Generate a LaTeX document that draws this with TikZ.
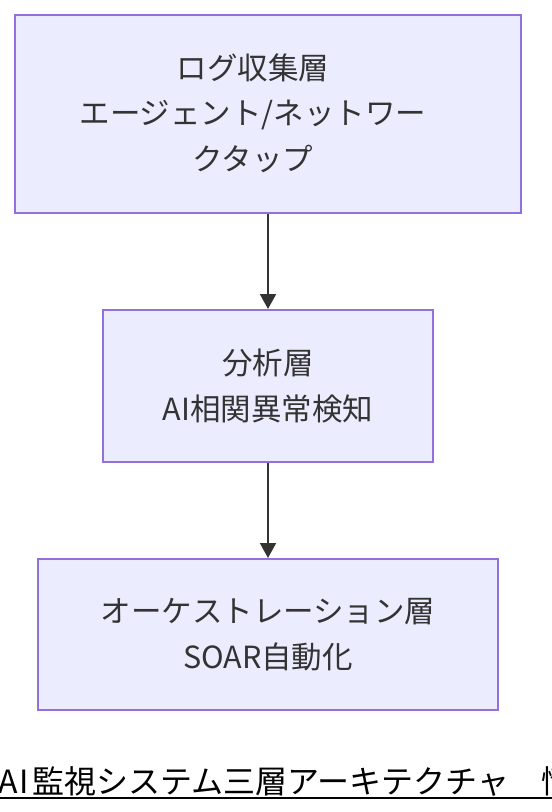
\documentclass[tikz,border=0pt]{standalone}
\usepackage{fontspec}
\setmainfont{Noto Sans CJK JP}
\newfontfamily\capfont{Noto Sans CJK JP}
\usetikzlibrary{arrows.meta}
\definecolor{boxfill}{HTML}{ECECFF}
\definecolor{boxline}{HTML}{9370DB}
\definecolor{txt}{HTML}{333333}
\tikzset{
  layer/.style={draw=boxline, fill=boxfill, line width=2pt, text=txt,
    align=center, inner sep=0pt, font=\fontsize{30.5}{45.5}\selectfont},
  layertext/.style={text=txt, align=center, inner sep=0pt,
    font=\fontsize{30.5}{45.5}\selectfont},
  conn/.style={draw=txt, line width=2pt, -{Triangle[length=15pt,width=16pt]}},
}
\begin{document}
\begin{tikzpicture}[x=1pt,y=-1pt]
\useasboundingbox (0,0) rectangle (552,812);
\clip (0,0) rectangle (552,812);
\fill[white] (0,0) rectangle (552,812);
\node[layer, minimum width=506pt, minimum height=198pt] (log) at (268,114) {};
\node[layertext] (logtext) at (253,113)
  {ログ収集層\\エージェント/ネットワー\\クタップ};
\node[layer, minimum width=330pt, minimum height=152pt] (ana) at (268,386)
  {分析層\\AI相関異常検知};
\node[layer, minimum width=460pt, minimum height=151pt] (orc) at (268,634.5)
  {オーケストレーション層\\SOAR自動化};
\draw[conn] (log.south) -- (ana.north);
\draw[conn] (ana.south) -- (orc.north);
\node[anchor=base west, inner sep=0pt, font=\capfont\fontsize{32}{36}\selectfont] (cap) at (0,793)
  {\makebox[16pt]{A}\makebox[16pt]{I}監視システム三層アーキテクチャ　情};
\coordinate (ul1) at (0,798);
\coordinate (ul2) at (552,798);
\draw[line width=2pt, black] (ul1) -- (ul2);
\end{tikzpicture}
\end{document}
